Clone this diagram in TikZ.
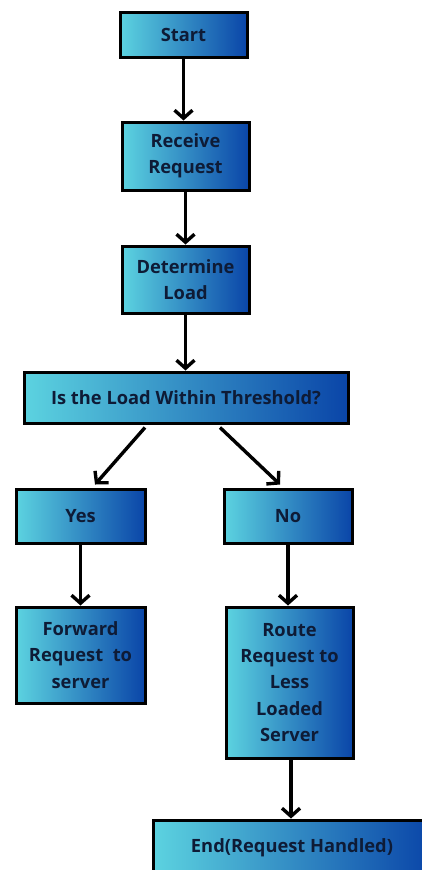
\documentclass[tikz,border=0pt]{standalone}
\usepackage{fontspec}
\setmainfont{Open Sans}
\usetikzlibrary{arrows.meta}
\definecolor{lightc}{HTML}{5CD3E0}
\definecolor{darkc}{HTML}{0A45A8}
\definecolor{txt}{HTML}{0E1B36}
\tikzset{
  boxnode/.style={draw=black, line width=3pt, left color=lightc, right color=darkc,
    text=txt, font=\bfseries\fontsize{18.3}{26.3}\selectfont, align=center, inner sep=1pt},
  arr/.style={line width=3.4pt, -{Straight Barb[length=8pt,width=18pt,line width=3.4pt]}}
}
\begin{document}
\begin{tikzpicture}[x=1pt,y=-1pt]
\clip (0,0) rectangle (422,870);
\useasboundingbox (0,0) rectangle (422,870);
\fill[white] (0,0) rectangle (422,870);
\node[boxnode, minimum width=127pt, minimum height=45pt] (start) at (183.5,34.5) {Start};
\node[boxnode, minimum width=127pt, minimum height=68pt] (recv) at (185.5,156) {Receive\\Request};
\node[boxnode, minimum width=127pt, minimum height=67pt] (det) at (185.5,279.5) {Determine\\Load};
\node[boxnode, minimum width=324pt, minimum height=51pt] (thr) at (186,397.5) {Is the Load Within Threshold?};
\node[boxnode, minimum width=129pt, minimum height=54pt] (yes) at (80.5,516) {Yes};
\node[boxnode, minimum width=128pt, minimum height=54pt] (no) at (288,516) {No};
\node[boxnode, minimum width=129pt, minimum height=96pt] (fwd) at (80.5,655) {Forward\\Request~ to\\server};
\node[boxnode, minimum width=127pt, minimum height=151pt] (route) at (289.5,682.5) {Route\\Request to\\Less\\Loaded\\Server};
\node[boxnode, minimum width=278pt, minimum height=55pt] (end) at (292,847.5) {End(Request Handled)};
\draw[arr] (start.south) -- (start.south |- recv.north);
\draw[arr] (recv.south) -- (recv.south |- det.north);
\draw[arr] (det.south) -- (det.south |- thr.north);
\draw[arr] ([xshift=-41pt,yshift=-3pt]thr.south) -- ([xshift=14.5pt,yshift=3pt]yes.north);
\draw[arr] ([xshift=34pt,yshift=-3pt]thr.south) -- ([xshift=-8pt,yshift=3pt]no.north);
\draw[arr] (yes.south) -- (yes.south |- fwd.north);
\draw[arr] (no.south) -- (no.south |- route.north);
\draw[arr] ([xshift=1.5pt]route.south) -- ([xshift=1.5pt]route.south |- end.north);
\end{tikzpicture}
\end{document}
